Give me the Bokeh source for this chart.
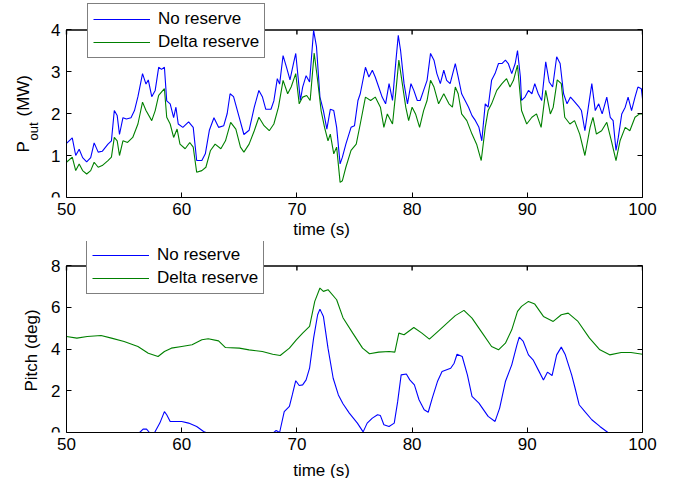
import math
from bokeh.plotting import figure
from bokeh.layouts import column
from bokeh.models import (Range1d, FixedTicker, LinearAxis, Legend, LegendItem,
                          Label, CustomJSTickFormatter)
from bokeh.embed import file_html
from bokeh.resources import INLINE

# ---------------- data ----------------
t_pout_no = [50.0, 50.5, 50.8, 51.1, 51.4, 51.75, 52.1, 52.4, 52.75, 53.1, 53.6, 53.9, 54.15, 54.4, 54.6, 54.9,
             55.2, 55.6, 55.9, 56.2, 56.6, 56.9, 57.1, 57.4, 57.7, 58.0, 58.25, 58.5, 58.7, 59.0, 59.3, 59.5,
             59.7, 60.1, 60.6, 61.0, 61.3, 61.75, 62.05, 62.4, 62.8, 63.2, 63.65, 63.95, 64.2, 64.5, 65.0, 65.4,
             65.85, 66.3, 66.7, 67.0, 67.3, 67.75, 68.0, 68.3, 68.5, 68.8, 69.1, 69.4, 69.7, 69.9, 70.1, 70.3,
             70.5, 70.8, 71.1, 71.45, 71.7, 72.0, 72.3, 72.6, 72.9, 73.2, 73.45, 73.75, 73.95, 74.25, 74.7, 75.0,
             75.3, 75.5, 75.95, 76.25, 76.55, 76.8, 77.1, 77.4, 77.7, 78.0, 78.3, 78.6, 78.8, 79.0, 79.3, 79.6,
             79.9, 80.15, 80.45, 80.7, 81.0, 81.3, 81.6, 81.9, 82.15, 82.45, 82.75, 83.0, 83.3, 83.75, 84.0, 84.3,
             84.6, 84.9, 85.2, 85.5, 85.8, 86.05, 86.35, 86.6, 86.9, 87.2, 87.5, 87.8, 88.1, 88.35, 88.65, 88.95,
             89.15, 89.4, 89.5, 89.8, 90.1, 90.4, 90.65, 90.95, 91.25, 91.6, 91.9, 92.2, 92.55, 92.85, 93.15, 93.45,
             93.75, 94.0, 94.5, 94.7, 95.0, 95.3, 95.6, 95.9, 96.2, 96.5, 96.9, 97.2, 97.45, 97.7, 97.9, 98.2,
             98.5, 98.75, 99.05, 99.35, 99.6, 99.9, 100.0]
pout_no = [1.29, 1.42, 1.0, 1.15, 0.95, 0.85, 0.95, 1.3, 1.08, 1.1, 1.27, 1.35, 2.07, 1.95, 1.5, 1.9,
           1.87, 1.9, 2.07, 2.4, 2.95, 2.7, 2.8, 2.4, 2.55, 3.1, 3.05, 3.1, 2.3, 2.23, 1.9, 2.15,
           1.75, 1.67, 1.8, 1.67, 0.88, 0.88, 1.04, 1.6, 1.9, 1.67, 1.71, 2.0, 2.47, 2.4, 1.9, 1.5,
           1.6, 2.15, 2.55, 2.4, 2.1, 2.1, 2.3, 2.83, 2.7, 3.38, 3.1, 2.8, 3.19, 3.43, 2.87, 2.31,
           2.63, 2.9, 2.75, 3.98, 3.59, 2.39, 2.07, 1.63, 2.1, 2.07, 1.67, 0.8, 0.96, 1.27, 1.67, 1.71,
           2.31, 2.47, 3.1, 2.87, 3.03, 2.87, 2.63, 2.39, 2.23, 2.71, 2.31, 3.27, 3.86, 3.5, 2.71, 2.23,
           2.71, 2.55, 2.31, 2.31, 2.55, 2.79, 3.43, 3.27, 2.95, 2.71, 3.03, 2.79, 2.71, 3.19, 2.87, 2.47,
           2.31, 2.15, 1.95, 1.83, 1.67, 1.35, 2.23, 2.15, 2.79, 2.95, 3.19, 3.19, 3.27, 3.19, 2.95, 3.19,
           3.5, 2.87, 2.31, 2.39, 2.55, 2.47, 2.71, 2.47, 2.31, 3.23, 2.75, 2.63, 3.35, 3.19, 2.47, 2.23,
           2.39, 2.31, 2.15, 2.07, 1.59, 2.15, 2.71, 2.07, 2.23, 1.99, 2.39, 1.91, 1.83, 1.12, 1.43, 1.99,
           2.15, 2.39, 2.07, 2.39, 2.63, 2.59, 2.35]

t_pout_delta = [50.0, 50.5, 50.8, 51.1, 51.4, 51.75, 52.1, 52.4, 52.75, 53.1, 53.6, 53.9, 54.15, 54.4, 54.6,
                54.9, 55.3, 55.75, 56.2, 56.6, 56.9, 57.4, 57.7, 58.0, 58.5, 58.7, 59.0, 59.3, 59.6, 59.85,
                60.3, 60.7, 61.0, 61.3, 61.75, 62.1, 62.5, 62.9, 63.4, 63.8, 64.25, 64.7, 65.1, 65.4, 65.85,
                66.3, 66.7, 67.15, 67.6, 68.0, 68.4, 68.8, 69.2, 69.5, 69.9, 70.2, 70.5, 70.85, 71.15, 71.5,
                71.8, 72.1, 72.4, 72.7, 72.9, 73.2, 73.45, 73.75, 73.95, 74.25, 74.7, 75.15, 75.5, 75.95, 76.4,
                76.8, 77.25, 77.55, 77.85, 78.3, 78.6, 78.85, 79.15, 79.45, 79.7, 80.0, 80.3, 80.65, 81.0, 81.3,
                81.6, 81.9, 82.3, 82.75, 83.2, 83.5, 83.75, 84.0, 84.3, 84.75, 85.2, 85.6, 86.0, 86.35, 86.6,
                86.9, 87.35, 87.8, 88.2, 88.5, 88.8, 89.15, 89.5, 89.95, 90.4, 90.8, 91.2, 91.6, 92.0, 92.25,
                92.6, 92.95, 93.25, 93.7, 94.1, 94.55, 95.0, 95.45, 95.7, 96.0, 96.45, 96.9, 97.3, 97.7, 98.05,
                98.5, 98.9, 99.35, 99.75, 100.0]
pout_delta = [0.84, 0.96, 0.64, 0.8, 0.64, 0.56, 0.64, 0.84, 0.72, 0.76, 0.88, 0.96, 1.43, 1.35, 1.0,
              1.35, 1.31, 1.43, 1.75, 2.27, 2.07, 1.83, 2.07, 2.43, 2.59, 1.91, 1.75, 1.43, 1.63, 1.27,
              1.16, 1.31, 1.2, 0.6, 0.64, 0.72, 1.12, 1.27, 1.16, 1.35, 1.79, 1.63, 1.2, 1.08, 1.27,
              1.59, 1.91, 1.71, 1.59, 1.75, 2.15, 2.79, 2.47, 2.63, 2.95, 2.23, 2.39, 2.43, 2.31, 3.44,
              2.79, 2.07, 1.67, 1.35, 1.51, 1.04, 1.2, 0.36, 0.4, 0.72, 1.12, 1.27, 1.75, 2.39, 2.31,
              2.39, 2.15, 1.67, 1.99, 1.75, 2.55, 3.27, 2.71, 2.15, 1.83, 2.15, 1.99, 1.67, 2.07, 2.31,
              2.79, 2.63, 2.23, 2.47, 2.23, 2.15, 2.63, 2.47, 1.99, 1.83, 1.51, 1.27, 0.88, 1.67, 2.07,
              2.23, 2.55, 2.71, 2.83, 2.63, 2.79, 3.15, 2.07, 1.75, 1.91, 1.99, 1.67, 2.55, 1.99, 2.15,
              2.8, 2.71, 1.91, 1.75, 1.83, 1.51, 1.0, 1.67, 1.91, 1.51, 1.59, 1.79, 1.35, 0.88, 1.35,
              1.67, 1.59, 1.91, 1.99, 1.99]

t_pitch_no = [50.0, 56.35, 56.65, 56.95, 57.2, 57.65, 58.1, 58.5, 58.7, 59.0, 60.0, 60.6, 61.3, 61.9, 62.1,
              68.0, 68.2, 68.5, 68.9, 69.35, 69.6, 69.9, 70.2, 70.5, 70.8, 71.1, 71.45, 71.8, 72.0, 72.3,
              72.7, 73.15, 73.6, 74.0, 74.55, 75.25, 75.75, 76.1, 76.55, 77.0, 77.25, 77.55, 78.0, 78.45,
              78.75, 79.05, 79.5, 79.8, 80.2, 80.6, 81.05, 81.4, 81.75, 82.2, 82.6, 83.35, 83.65, 83.9, 84.35,
              84.8, 85.2, 85.8, 86.6, 87.2, 87.6, 88.1, 88.65, 89.1, 89.3, 89.65, 90.1, 90.5, 90.95, 91.4,
              91.75, 92.15, 92.55, 92.95, 93.3, 93.85, 94.15, 94.5, 95.0, 95.6, 96.3, 97.0, 100.0]
pitch_no = [0.0, 0.0, 0.16, 0.16, 0.0, 0.0, 0.45, 1.0, 0.85, 0.53, 0.53, 0.45, 0.29, 0.05, 0.0,
            0.0, 0.1, 0.0, 1.0, 1.25, 1.8, 2.48, 2.25, 2.28, 2.52, 3.08, 4.52, 5.64, 5.91, 5.56,
            4.04, 2.6, 1.8, 1.38, 0.93, 0.45, 0.03, 0.45, 0.69, 0.85, 0.81, 0.37, 0.29, 0.45,
            1.49, 2.76, 2.8, 2.52, 2.28, 1.57, 1.09, 0.97, 1.65, 2.44, 2.92, 3.08, 3.32, 3.75, 3.64,
            2.76, 1.73, 1.41, 0.77, 0.53, 1.17, 2.44, 3.24, 4.2, 4.57, 4.36, 3.72, 3.48, 3.0, 2.52,
            2.89, 2.73, 3.72, 4.09, 3.72, 2.76, 2.12, 1.33, 1.0, 0.61, 0.29, 0.0, 0.0]

t_pitch_delta = [50.0, 50.9, 51.8, 53.0, 53.9, 55.0, 56.2, 57.1, 57.95, 58.5, 59.1, 60.0, 60.9, 61.75, 62.3,
                 63.2, 63.8, 65.0, 65.85, 67.0, 67.9, 68.55, 69.35, 69.95, 70.5, 71.1, 71.55, 72.0, 72.3,
                 72.7, 73.45, 74.0, 74.85, 75.7, 76.3, 77.1, 78.0, 78.5, 78.85, 79.3, 80.15, 80.85, 81.5,
                 82.3, 83.2, 83.75, 84.5, 85.2, 86.1, 86.9, 87.5, 88.1, 88.65, 89.15, 89.5, 90.1, 90.65,
                 91.4, 92.25, 92.95, 93.55, 94.4, 95.4, 96.3, 97.15, 98.15, 99.0, 100.0]
pitch_delta = [4.6, 4.52, 4.6, 4.65, 4.52, 4.36, 4.12, 3.8, 3.64, 3.88, 4.04, 4.12, 4.2, 4.44, 4.49,
               4.39, 4.07, 4.04, 3.96, 3.88, 3.75, 3.69, 4.04, 4.44, 4.76, 5.08, 6.28, 6.92, 6.76,
               6.84, 6.36, 5.5, 4.76, 4.04, 3.77, 3.85, 3.88, 3.85, 4.76, 4.68, 5.03, 4.76, 4.47,
               4.87, 5.32, 5.6, 5.85, 5.48, 4.76, 4.12, 3.96, 4.28, 4.92, 5.8, 6.04, 6.28, 6.15,
               5.56, 5.32, 5.64, 5.72, 5.32, 4.52, 3.96, 3.72, 3.83, 3.83, 3.75]

x_lim = (50, 100)
x_ticks = [50, 60, 70, 80, 90, 100]
pout_lim = (0, 4)
pout_ticks = [0, 1, 2, 3, 4]
pitch_lim = (0, 8)
pitch_ticks = [0, 2, 4, 6, 8]
series_names = ["No reserve", "Delta reserve"]

# ---------------- style / layout ----------------
FONT = "Liberation Sans"
FS = "17px"
BLUE = "#0000ff"
GREEN = "#008000"
AX_LEFT = 66       # px from canvas left to x=50
AX_W = 576         # px of the 50..100 axis
RIGHT_PAD = 37
TICK = 5


def box_axis(ax, ticks, bounds, labels=True, standoff=3):
    ax.ticker = FixedTicker(ticks=ticks)
    ax.bounds = bounds
    ax.major_tick_in = TICK
    ax.major_tick_out = 0
    ax.minor_tick_line_color = None
    ax.major_tick_line_color = "black"
    ax.axis_line_color = "black"
    ax.major_label_text_font = FONT
    ax.major_label_text_font_size = FS
    ax.major_label_text_color = "black"
    ax.major_label_standoff = standoff
    ax.axis_label_text_font = FONT
    ax.axis_label_text_font_size = FS
    ax.axis_label_text_font_style = "normal"
    ax.axis_label_text_color = "black"
    if not labels:
        ax.formatter = CustomJSTickFormatter(code="return ''")


def make_fig(ylim, yticks, ax_h, extra_top, top, bottom, xlabel_standoff):
    px_x = AX_W / (x_lim[1] - x_lim[0])
    px_y = ax_h / (ylim[1] - ylim[0])
    xr = Range1d(x_lim[0] - AX_LEFT / px_x, x_lim[1])
    yr = Range1d(ylim[0], ylim[1] + extra_top / px_y)
    p = figure(frame_width=AX_LEFT + AX_W, frame_height=ax_h + extra_top, x_range=xr, y_range=yr,
               output_backend="svg", toolbar_location=None,
               min_border_left=0, min_border_right=RIGHT_PAD, min_border_top=top,
               min_border_bottom=bottom)
    p.outline_line_color = None
    p.xgrid.visible = False
    p.ygrid.visible = False
    p.background_fill_color = "white"
    p.border_fill_color = "white"
    # top edge of the axes box (partly under the legend), drawn a touch inside
    y_edge = ylim[1] - 0.5 / px_y
    p.line(x=list(x_lim), y=[y_edge, y_edge], line_color="black", line_width=1.6)
    # inward ticks along the top edge
    p.segment(x0=x_ticks, y0=[y_edge] * len(x_ticks), x1=x_ticks,
              y1=[ylim[1] - TICK / px_y] * len(x_ticks), line_color="black", line_width=1.4)
    # bottom axis
    box_axis(p.xaxis[0], x_ticks, x_lim, standoff=5)
    p.xaxis[0].axis_label = "time (s)"
    p.xaxis[0].axis_label_standoff = xlabel_standoff
    # left axis fixed at x=50
    yax = p.yaxis[0]
    box_axis(yax, yticks, ylim, standoff=6)
    yax.fixed_location = x_lim[0]
    # right border
    ax_right = LinearAxis()
    box_axis(ax_right, yticks, ylim, labels=False)
    p.add_layout(ax_right, "right")
    return p


def add_legend(p, r1, r2, x, y):
    leg = Legend(items=[LegendItem(label=series_names[0], renderers=[r1]),
                        LegendItem(label=series_names[1], renderers=[r2])],
                 location=(x, y), margin=0, padding=5, spacing=3,
                 glyph_width=57, glyph_height=20, label_height=20, label_standoff=8,
                 label_text_font=FONT, label_text_font_size=FS, label_text_color="black",
                 border_line_color="black", border_line_width=1,
                 background_fill_color="white", background_fill_alpha=1)
    p.add_layout(leg)


lab_kw = dict(x_units="screen", y_units="screen", angle=math.pi / 2, text_font=FONT,
              text_color="black")

# ---- top: P_out ----
p1 = make_fig(pout_lim, pout_ticks, 168, 27, 2, 43, 2)
r1 = p1.line(t_pout_no, pout_no, line_color=BLUE, line_width=1.1)
r2 = p1.line(t_pout_delta, pout_delta, line_color=GREEN, line_width=1.1)
add_legend(p1, r1, r2, 87, 139)
p1.add_layout(Label(x=23, y=45, text="P", text_font_size=FS, text_align="left",
                    text_baseline="alphabetic", **lab_kw))
p1.add_layout(Label(x=33, y=57, text="out", text_font_size="13px", text_align="left",
                    text_baseline="alphabetic", **lab_kw))
p1.add_layout(Label(x=23, y=81, text="(MW)", text_font_size=FS, text_align="left",
                    text_baseline="alphabetic", **lab_kw))

# ---- bottom: Pitch ----
p2 = make_fig(pitch_lim, pitch_ticks, 167, 24, 0, 47, 8)
r3 = p2.line(t_pitch_no, pitch_no, line_color=BLUE, line_width=1.1)
r4 = p2.line(t_pitch_delta, pitch_delta, line_color=GREEN, line_width=1.1)
add_legend(p2, r3, r4, 86, 138)
p2.add_layout(Label(x=31, y=82, text="Pitch (deg)", text_font_size=FS, text_align="center",
                    text_baseline="middle", **lab_kw))

layout = column(p1, p2, spacing=0)
open("out.html", "w").write(file_html(layout, INLINE))
